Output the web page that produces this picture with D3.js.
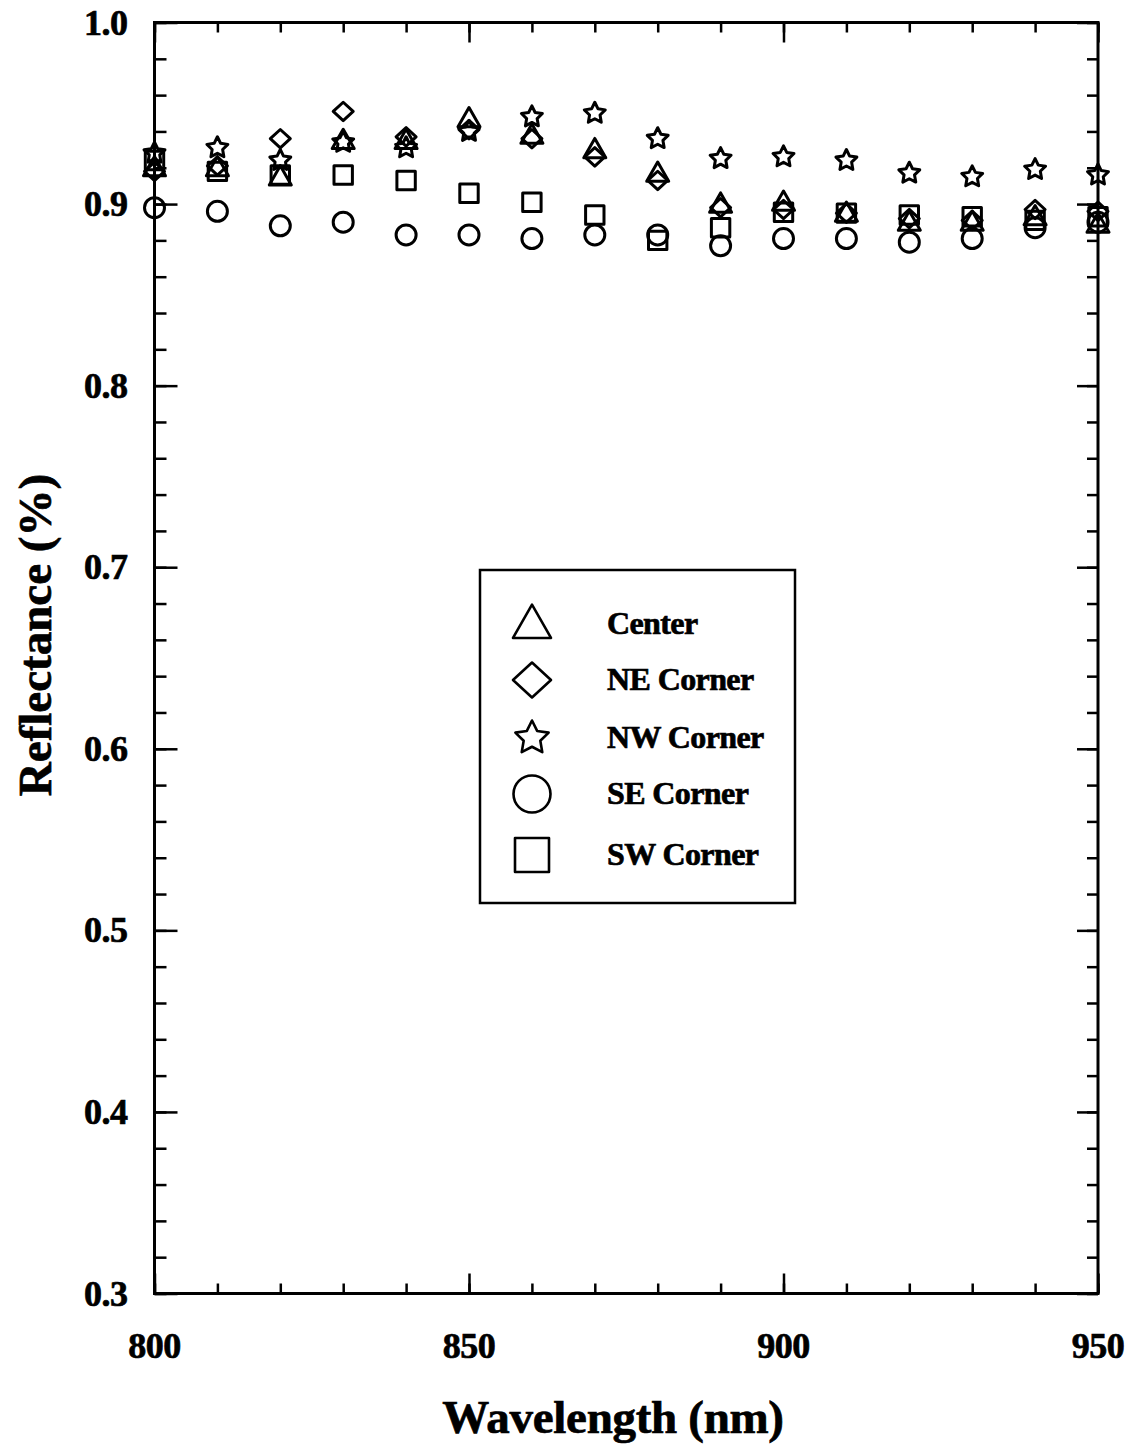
<!DOCTYPE html>
<html>
<head>
<meta charset="utf-8">
<script src="https://cdn.jsdelivr.net/npm/d3@7"></script>
<style>
  html, body { margin: 0; padding: 0; background: #fff; }
  svg { display: block; }
  text { font-family: "Liberation Serif", "DejaVu Serif", serif; font-weight: bold; fill: #000; stroke: #000; stroke-width: 0.7px; }
</style>
</head>
<body>
<svg id="chart" width="1134" height="1452"></svg>
<script>
// Wavelengths sampled (nm)
const wavelengths = [800, 810, 820, 830, 840, 850, 860, 870, 880, 890, 900, 910, 920, 930, 940, 950];

// Reflectance measured at each position on the panel
const center = [0.920, 0.920, 0.915, 0.935, 0.935, 0.947, 0.938, 0.930, 0.917, 0.900, 0.901, 0.895, 0.890, 0.890, 0.893, 0.889];
const neCorner = [0.918, 0.921, 0.936, 0.951, 0.937, 0.941, 0.936, 0.926, 0.913, 0.898, 0.897, 0.895, 0.892, 0.891, 0.897, 0.896];
const nwCorner = [0.928, 0.931, 0.924, 0.934, 0.931, 0.940, 0.948, 0.950, 0.936, 0.925, 0.926, 0.924, 0.917, 0.915, 0.919, 0.916];
const seCorner = [0.898, 0.896, 0.888, 0.890, 0.883, 0.883, 0.881, 0.883, 0.883, 0.877, 0.881, 0.881, 0.879, 0.881, 0.887, 0.890];
const swCorner = [0.924, 0.918, 0.916, 0.916, 0.913, 0.906, 0.901, 0.894, 0.880, 0.887, 0.8955, 0.895, 0.894, 0.893, 0.891, 0.893];

const seriesNames = ["Center", "NE Corner", "NW Corner", "SE Corner", "SW Corner"];
const seriesValues = [center, neCorner, nwCorner, seCorner, swCorner];

const xTickLabels = [800, 850, 900, 950];
const yTickLabels = [0.3, 0.4, 0.5, 0.6, 0.7, 0.8, 0.9, 1.0];

// Plot frame
const plotLeft = 154.5, plotRight = 1098, plotTop = 22.5, plotBottom = 1293.5;

const x = d3.scaleLinear().domain([800, 950]).range([plotLeft, plotRight]);
const y = d3.scaleLinear().domain([0.3, 1.0]).range([plotBottom, plotTop]);

const svg = d3.select("#chart");

// Marker shapes: open outlines, sized by half-width r
const shapes = {
  triangle: {
    draw(ctx, r) {
      const h = r * 1.75;
      ctx.moveTo(0, -h * 0.58);
      ctx.lineTo(r, h * 0.42);
      ctx.lineTo(-r, h * 0.42);
      ctx.closePath();
    }
  },
  diamond: {
    draw(ctx, r) {
      const v = r * 0.92;
      ctx.moveTo(0, -v);
      ctx.lineTo(r, 0);
      ctx.lineTo(0, v);
      ctx.lineTo(-r, 0);
      ctx.closePath();
    }
  },
  star: {
    draw(ctx, r) {
      const inner = r * 0.5;
      for (let i = 0; i < 10; i++) {
        const rad = i % 2 === 0 ? r : inner;
        const a = -Math.PI / 2 + i * Math.PI / 5;
        const px = rad * Math.cos(a), py = rad * Math.sin(a);
        if (i === 0) ctx.moveTo(px, py); else ctx.lineTo(px, py);
      }
      ctx.closePath();
    }
  },
  circle: {
    draw(ctx, r) {
      ctx.moveTo(r, 0);
      ctx.arc(0, 0, r, 0, 2 * Math.PI);
    }
  },
  square: {
    draw(ctx, r) {
      ctx.rect(-r, -r, 2 * r, 2 * r);
    }
  }
};
const seriesShapes = [shapes.triangle, shapes.diamond, shapes.star, shapes.circle, shapes.square];
const markerSize = [11, 10, 11, 10, 9.2];
const legendSize = [19, 19, 17.5, 18.5, 17];

// Minor and major ticks, drawn inward on all four sides
const minorX = d3.range(800, 951, 10);
const minorY = d3.range(30, 101, 2).map(v => v / 100);

function tickAxis(axisFn, scale, values, size, transform) {
  const g = svg.append("g").attr("transform", transform)
    .call(axisFn(scale).tickValues(values).tickSize(size).tickFormat(""));
  g.select(".domain").remove();
  g.selectAll(".tick line").attr("stroke", "#000").attr("stroke-width", 2.5);
  return g;
}
tickAxis(d3.axisBottom, x, minorX, -10, `translate(0,${plotBottom})`);
tickAxis(d3.axisBottom, x, xTickLabels, -20, `translate(0,${plotBottom})`);
tickAxis(d3.axisTop, x, minorX, -10, `translate(0,${plotTop})`);
tickAxis(d3.axisTop, x, xTickLabels, -20, `translate(0,${plotTop})`);
tickAxis(d3.axisLeft, y, minorY, -12, `translate(${plotLeft},0)`);
tickAxis(d3.axisLeft, y, yTickLabels, -23, `translate(${plotLeft},0)`);
tickAxis(d3.axisRight, y, minorY, -11, `translate(${plotRight},0)`);
tickAxis(d3.axisRight, y, yTickLabels, -21, `translate(${plotRight},0)`);

// Frame
svg.append("rect")
  .attr("x", plotLeft).attr("y", plotTop)
  .attr("width", plotRight - plotLeft).attr("height", plotBottom - plotTop)
  .attr("fill", "none").attr("stroke", "#000").attr("stroke-width", 3);

// Tick labels
svg.append("g").selectAll("text").data(xTickLabels).join("text")
  .attr("x", d => x(d)).attr("y", plotBottom + 64)
  .attr("text-anchor", "middle")
  .attr("font-size", 36).attr("letter-spacing", -0.5)
  .text(d => d);

svg.append("g").selectAll("text").data(yTickLabels).join("text")
  .attr("x", plotLeft - 27).attr("y", d => y(d) + 12)
  .attr("text-anchor", "end")
  .attr("font-size", 36).attr("letter-spacing", -0.5)
  .text(d => d.toFixed(1));

// Axis titles
svg.append("text")
  .attr("x", 613).attr("y", 1433)
  .attr("text-anchor", "middle")
  .attr("font-size", 47).attr("letter-spacing", -0.3)
  .text("Wavelength (nm)");

svg.append("text")
  .attr("transform", "translate(51,635) rotate(-90)")
  .attr("text-anchor", "middle")
  .attr("font-size", 47).attr("letter-spacing", 0)
  .text("Reflectance (%)");

// Data markers
const symbol = d3.symbol();
seriesValues.forEach((vals, si) => {
  svg.append("g").selectAll("path").data(vals).join("path")
    .attr("transform", (d, i) => `translate(${x(wavelengths[i])},${y(d)})`)
    .attr("d", symbol.type(seriesShapes[si]).size(markerSize[si])())
    .attr("fill", "none").attr("stroke", "#000").attr("stroke-width", 3)
    .attr("stroke-linejoin", "round");
});

// Legend
const legend = svg.append("g");
legend.append("rect")
  .attr("x", 480).attr("y", 570).attr("width", 315).attr("height", 333)
  .attr("fill", "#fff").attr("stroke", "#000").attr("stroke-width", 2.5);
const legendRows = [624, 680, 738, 794, 855];
seriesNames.forEach((name, si) => {
  legend.append("path")
    .attr("transform", `translate(532,${legendRows[si]})`)
    .attr("d", d3.symbol().type(seriesShapes[si]).size(legendSize[si])())
    .attr("fill", "none").attr("stroke", "#000").attr("stroke-width", 2.6)
    .attr("stroke-linejoin", "round");
  legend.append("text")
    .attr("x", 607).attr("y", legendRows[si] + 10)
    .attr("font-size", 32).attr("letter-spacing", -0.6)
    .text(name);
});
</script>
</body>
</html>
